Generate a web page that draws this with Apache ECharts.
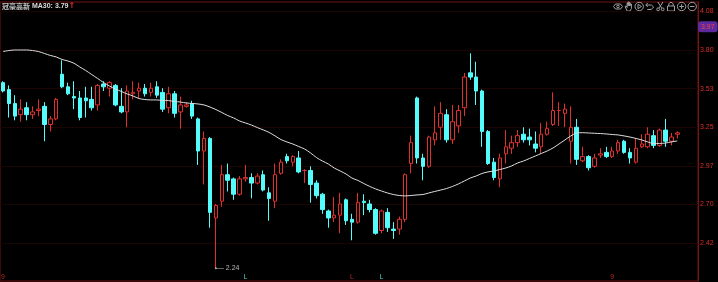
<!DOCTYPE html>
<html><head><meta charset="utf-8">
<script src="https://cdn.jsdelivr.net/npm/echarts@6/dist/echarts.min.js"></script>
<style>html,body{margin:0;padding:0;background:#000;overflow:hidden}#c{width:718px;height:282px}</style>
</head><body><div id="c"></div>
<script>
const stockName = '冠豪高新';
const opens = [3.57,3.52,3.42,3.34,3.39,3.34,3.37,3.40,3.27,3.31,
3.63,3.54,3.47,3.46,3.46,3.45,3.41,3.56,3.53,3.55,
3.40,3.36,3.49,3.51,3.53,3.50,3.54,3.50,3.39,3.49,
3.36,3.40,3.42,3.31,3.08,3.17,2.60,2.72,2.91,2.88,
2.77,2.88,2.89,2.85,2.91,2.78,2.72,2.92,3.04,3.00,
3.03,2.94,2.94,2.85,2.77,2.65,2.60,2.62,2.73,2.59,
2.57,2.72,2.70,2.66,2.51,2.64,2.52,2.52,2.59,2.99,
3.46,3.03,2.97,3.16,3.25,3.34,3.16,3.26,3.39,3.64,
3.61,3.51,3.22,3.00,2.88,3.06,3.10,3.14,3.20,3.18,
3.13,3.11,3.20,3.27,3.37,3.35,3.15,3.25,3.01,3.04,
2.97,3.05,3.07,3.04,3.08,3.15,3.07,3.00,3.11,3.11,
3.19,3.12,3.23,3.15,3.20];
const closes = [3.51,3.42,3.33,3.38,3.34,3.36,3.38,3.27,3.31,3.45,
3.54,3.49,3.46,3.32,3.44,3.39,3.55,3.54,3.57,3.41,
3.36,3.51,3.50,3.53,3.49,3.53,3.48,3.38,3.49,3.35,
3.41,3.41,3.33,3.08,3.17,2.64,2.69,2.91,2.87,2.77,
2.88,2.89,2.85,2.90,2.80,2.74,2.91,3.00,3.01,3.04,
2.93,2.94,2.84,2.76,2.66,2.60,2.62,2.70,2.58,2.57,
2.71,2.71,2.66,2.49,2.65,2.53,2.51,2.59,2.91,3.14,
3.03,2.97,3.18,3.21,3.35,3.16,3.29,3.37,3.61,3.61,
3.51,3.22,2.99,2.89,3.03,3.11,3.14,3.19,3.16,3.16,
3.10,3.20,3.24,3.37,3.37,3.38,3.25,3.02,3.04,2.96,
3.03,3.06,3.04,3.08,3.14,3.07,3.03,3.10,3.13,3.20,
3.12,3.23,3.15,3.18,3.21];
const highs = [3.58,3.55,3.48,3.45,3.43,3.40,3.45,3.43,3.33,3.46,
3.73,3.57,3.58,3.51,3.54,3.54,3.56,3.58,3.58,3.56,
3.53,3.55,3.58,3.57,3.56,3.57,3.58,3.53,3.54,3.51,
3.47,3.43,3.44,3.32,3.22,3.18,2.70,2.98,2.99,2.89,
2.90,2.98,2.92,2.92,2.94,2.82,2.99,3.02,3.06,3.05,
3.08,2.95,2.97,2.87,2.78,2.66,2.75,2.78,2.74,2.63,
2.78,2.77,2.73,2.67,2.66,2.67,2.57,2.61,2.92,3.19,
3.47,3.06,3.19,3.40,3.43,3.38,3.41,3.41,3.64,3.78,
3.72,3.52,3.23,3.03,3.06,3.23,3.19,3.23,3.25,3.24,
3.22,3.28,3.29,3.50,3.43,3.42,3.40,3.31,3.11,3.05,
3.06,3.10,3.11,3.11,3.16,3.16,3.10,3.17,3.20,3.25,
3.23,3.24,3.31,3.21,3.22];
const lows = [3.50,3.32,3.30,3.29,3.30,3.31,3.33,3.15,3.22,3.30,
3.53,3.48,3.38,3.30,3.32,3.37,3.37,3.51,3.47,3.40,
3.35,3.25,3.45,3.46,3.47,3.47,3.46,3.36,3.35,3.32,
3.24,3.39,3.31,2.98,2.84,2.53,2.24,2.68,2.79,2.73,
2.76,2.86,2.74,2.84,2.79,2.58,2.67,2.91,2.99,2.97,
2.92,2.85,2.71,2.74,2.63,2.53,2.57,2.49,2.55,2.44,
2.56,2.62,2.64,2.48,2.49,2.50,2.45,2.48,2.57,2.92,
2.99,2.87,2.96,3.12,3.16,3.14,3.13,3.21,3.33,3.59,
3.41,3.11,2.98,2.87,2.82,2.99,3.06,3.11,3.14,3.12,
3.07,3.06,3.19,3.26,3.26,3.25,2.99,2.98,3.00,2.94,
2.96,3.03,3.03,3.03,3.06,3.06,2.99,2.99,3.10,3.10,
3.10,3.11,3.11,3.12,3.17];
const ma30 = [3.793,3.800,3.804,3.804,3.804,3.800,3.793,3.779,3.765,3.754,
3.736,3.725,3.709,3.682,3.657,3.628,3.600,3.571,3.546,3.524,
3.507,3.489,3.474,3.456,3.449,3.446,3.446,3.442,3.441,3.435,
3.431,3.424,3.421,3.417,3.410,3.395,3.377,3.356,3.334,3.317,
3.295,3.281,3.266,3.248,3.231,3.213,3.188,3.162,3.145,3.130,
3.112,3.094,3.066,3.033,3.008,2.987,2.958,2.937,2.915,2.886,
2.869,2.847,2.826,2.808,2.793,2.779,2.768,2.761,2.758,2.761,
2.765,2.768,2.779,2.790,2.800,2.811,2.826,2.844,2.865,2.886,
2.901,2.919,2.930,2.937,2.947,2.958,2.973,2.994,3.008,3.026,
3.044,3.062,3.080,3.102,3.130,3.159,3.188,3.209,3.211,3.209,
3.207,3.205,3.202,3.198,3.195,3.188,3.180,3.170,3.159,3.145,
3.134,3.134,3.137,3.145,3.152];
const yTicks = [2.42, 2.6967, 2.9733, 3.25, 3.5267, 3.8033, 4.08];
const cursorPrice = 3.97;
const markerIdx = [0, 41, 59, 64, 103];
const markerText = ['9', 'L', 'L', 'L', '9'];
const markerUp = [true, false, true, false, true];
const emptySlots = 3;

const UP = '#e0302e', DOWN = '#54fcfc';
const yMin = 2.148, yMax = 4.148;
const n = opens.length + emptySlots;
const cats = Array.from({length: n}, (_, i) => String(i + 1));
const kData = opens.map((o, i) => [o, closes[i], lows[i], highs[i]]);
for (let i = 0; i < emptySlots; i++) kData.push('-');
const maData = ma30.slice();
for (let i = 0; i < emptySlots; i++) maData.push('-');
const markerData = markerIdx.map((idx, k) => ({
  value: [idx, yMin + 0.026],
  label: {formatter: markerText[k], color: markerUp[k] ? UP : DOWN}
}));

// toolbar icons built from simple primitives
const IC = '#a0a0a0';
const st = {fill: 'none', stroke: IC, lineWidth: 1};
function pl(pts) { return {type: 'polyline', silent: true, shape: {points: pts}, style: st}; }
function ci(cx, cy, r) { return {type: 'circle', silent: true, shape: {cx: cx, cy: cy, r: r}, style: st}; }
function iconAt(k) {
  const x = 618 + k * 10.6, y = 6.5;
  switch (k) {
    case 0: return [pl([[x-4.5,y],[x-2.5,y-2.5],[x+2.5,y-2.5],[x+4.5,y],[x+2.5,y+2.5],[x-2.5,y+2.5],[x-4.5,y]]), ci(x, y, 1.3)];
    case 1: return [pl([[x-1.5,y+4.5],[x-3.5,y],[x-2.5,y-0.5],[x-1.5,y+1],[x-1.5,y-3.5],[x-0.5,y-3.5],[x-0.5,y-0.5],[x-0.5,y-4.5],[x+0.5,y-4.5],[x+0.5,y-0.5],[x+0.5,y-3.8],[x+1.5,y-3.8],[x+1.5,y-0.5],[x+1.5,y-2.5],[x+2.8,y-2.5],[x+2.8,y+2],[x+1.5,y+4.5],[x-1.5,y+4.5]])];
    case 2: return [ci(x, y, 4.2), {type: 'polygon', silent: true, shape: {points: [[x-1.2,y-2.2],[x+2.3,y],[x-1.2,y+2.2]]}, style: st}];
    case 3: return [pl([[x-4,y-1.5],[x+1.5,y-1.5],[x+3.8,y+0.5],[x+1.5,y+3],[x-2.5,y+3]]), pl([[x-2,y-3.5],[x-4,y-1.5],[x-2,y+0.5]])];
    case 4: return [ci(x-2.3, y+2.8, 1.4), ci(x+2.3, y+2.8, 1.4), pl([[x-1.3,y+1.6],[x+2.5,y-4.5]]), pl([[x+1.3,y+1.6],[x-2.5,y-4.5]])];
    case 5: return [{type: 'rect', silent: true, shape: {x: x-3.5, y: y-0.5, width: 7, height: 5}, style: st}, pl([[x-2.2,y-0.5],[x-2.2,y-2.5],[x-1,y-4],[x+1,y-4],[x+2.2,y-2.5],[x+2.2,y-0.5]])];
    case 6: return [ci(x, y, 4.2), pl([[x,y-2.3],[x,y+2.3]]), pl([[x-2.3,y],[x+2.3,y]])];
    default: return [ci(x, y, 4.2), pl([[x-2.3,y],[x+2.3,y]])];
  }
}
let iconGraphics = [];
for (let k = 0; k < 8; k++) iconGraphics = iconGraphics.concat(iconAt(k));

const chart = echarts.init(document.getElementById('c'), null, {renderer: 'canvas'});
chart.setOption({
  backgroundColor: '#000',
  animation: false,
  title: {
    left: 2, top: 2, padding: 0,
    text: '{a|' + stockName + '} {b|MA30: ' + ma30[0].toFixed(2) + '}{c|↑}',
    textStyle: {
      fontSize: 7,
      rich: {
        a: {color: '#c8c8c8', fontSize: 7, fontFamily: 'Noto Sans CJK SC'},
        b: {color: '#dcdcdc', fontSize: 7, fontFamily: 'Liberation Sans'},
        c: {color: UP, fontSize: 8, fontFamily: 'DejaVu Sans'}
      }
    }
  },
  graphic: {elements: iconGraphics},
  grid: {
    left: -2, width: 700, top: 2, height: 279,
    show: true, borderColor: '#6e1212', borderWidth: 1, backgroundColor: 'transparent'
  },
  xAxis: {
    type: 'category', data: cats, boundaryGap: true,
    axisLine: {show: false}, axisTick: {show: false}, axisLabel: {show: false},
    splitLine: {show: false}
  },
  yAxis: {
    type: 'value', position: 'right', min: yMin, max: yMax, scale: true,
    axisLine: {show: true, lineStyle: {color: '#7a1414', width: 1}},
    axisTick: {show: false, customValues: yTicks},
    axisLabel: {
      show: true, customValues: yTicks, margin: 2, color: '#d8302c', fontSize: 7,
      fontFamily: 'Liberation Sans', formatter: v => v.toFixed(2)
    },
    splitLine: {show: true, lineStyle: {color: '#1a0404', width: 1, type: 'solid'}},
    axisPointer: {
      show: true, value: cursorPrice, status: 'show', snap: false, triggerTooltip: false,
      lineStyle: {opacity: 0},
      label: {
        show: true, backgroundColor: '#5a2a9e', color: '#ff4040', fontSize: 7,
        fontFamily: 'Liberation Sans', padding: [2, 3, 2, 3], margin: 0,
        formatter: p => Number(p.value).toFixed(2)
      },
      handle: {show: false}
    }
  },
  series: [
    {
      type: 'candlestick', data: kData, barWidth: 4,
      itemStyle: {color: '#000', color0: DOWN, borderColor: UP, borderColor0: DOWN, borderWidth: 1},
      emphasis: {disabled: true},
      markPoint: {
        symbol: 'circle', symbolSize: 2, animation: false,
        itemStyle: {color: '#b8b8b8'},
        label: {
          show: true, position: 'right', distance: 0, color: '#b8b8b8', fontSize: 7,
          fontFamily: 'Liberation Sans', formatter: p => '— ' + Number(p.value).toFixed(2)
        },
        data: [{type: 'min', valueDim: 'lowest'}]
      }
    },
    {
      type: 'line', data: maData, showSymbol: false, smooth: 0.3,
      lineStyle: {color: '#dedede', width: 1}, emphasis: {disabled: true}
    },
    {
      type: 'scatter', data: markerData, symbolSize: 0, silent: true,
      label: {show: true, position: 'inside', fontSize: 7, fontFamily: 'Liberation Sans'}
    }
  ]
});
</script>
</body></html>
